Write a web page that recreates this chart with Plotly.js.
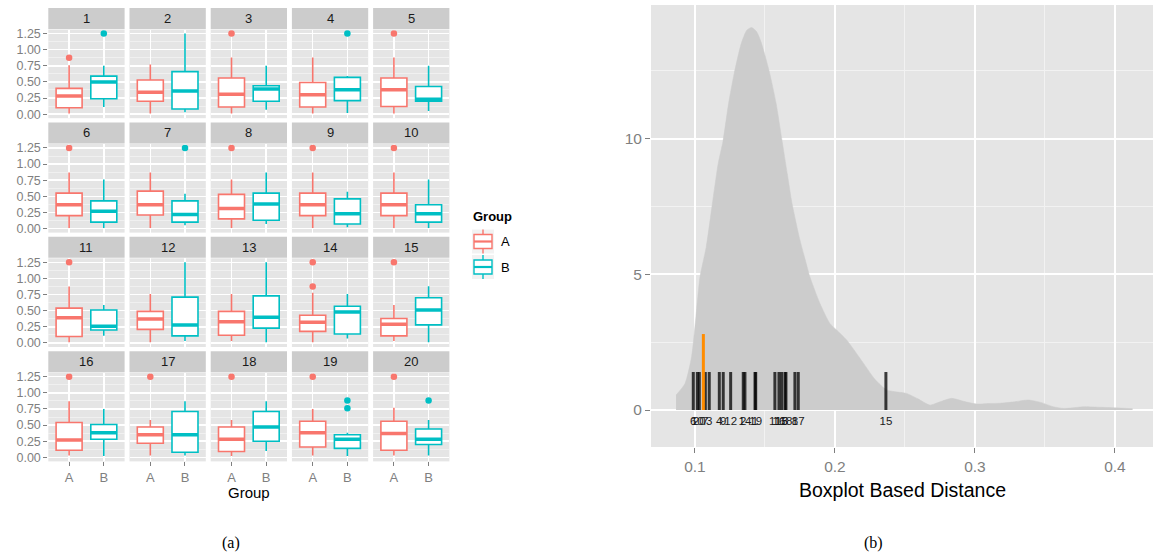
<!DOCTYPE html>
<html><head><meta charset="utf-8">
<script src="https://cdn.plot.ly/plotly-3.0.1.min.js"></script>
<style>html,body{margin:0;padding:0;background:#fff}#chart{width:1153px;height:555px}</style>
</head><body><div id="chart"></div>
<script>
// ---------------- data: panel (a) ----------------
const facetIds = [1,2,3,4,5,6,7,8,9,10,11,12,13,14,15,16,17,18,19,20];
const groups = ['A','B'];
const groupColors = ['#F8766D','#00BFC4'];
const yTicksA = [0, 0.25, 0.5, 0.75, 1.0, 1.25];

const aLow  = [0.01,0.01,0.01,0.01,0.01, 0.01,0.01,0.01,0.01,0.01, 0.01,0.01,0.03,0.01,0.03, 0.03,0.03,0.02,0.03,0.03];
const aQ1   = [0.10,0.20,0.11,0.11,0.12, 0.20,0.21,0.15,0.20,0.20, 0.10,0.21,0.12,0.18,0.11, 0.11,0.22,0.09,0.16,0.11];
const aMed  = [0.28,0.34,0.31,0.30,0.38, 0.37,0.37,0.31,0.37,0.37, 0.39,0.37,0.33,0.32,0.29, 0.27,0.35,0.28,0.38,0.37];
const aQ3   = [0.40,0.53,0.56,0.49,0.56, 0.55,0.58,0.53,0.55,0.55, 0.54,0.49,0.49,0.43,0.38, 0.54,0.47,0.47,0.56,0.56];
const aHigh = [0.76,0.77,0.88,0.88,0.88, 0.87,0.87,0.76,0.87,0.87, 0.875,0.76,0.76,0.78,0.59, 0.87,0.58,0.58,0.75,0.77];
const aOut  = [[0.875],[],[1.25],[],[1.25], [1.25],[],[1.25],[1.25],[1.25], [1.25],[],[],[0.875,1.25],[1.25], [1.25],[1.25],[1.25],[1.25],[1.25]];

const bLow  = [0.11,0.03,0.07,0.02,0.05, 0.01,0.05,0.07,0.02,0.01, 0.11,0.03,0.01,0.07,0.01, 0.02,0.03,0.10,0.02,0.03];
const bQ1   = [0.24,0.08,0.20,0.21,0.20, 0.10,0.10,0.13,0.07,0.10, 0.20,0.11,0.23,0.14,0.28, 0.28,0.08,0.25,0.14,0.20];
const bMed  = [0.50,0.36,0.39,0.38,0.23, 0.27,0.22,0.38,0.23,0.23, 0.26,0.28,0.40,0.48,0.51, 0.38,0.35,0.47,0.28,0.28];
const bQ3   = [0.59,0.66,0.44,0.57,0.43, 0.43,0.43,0.55,0.46,0.37, 0.51,0.71,0.73,0.57,0.70, 0.51,0.71,0.71,0.35,0.44];
const bHigh = [0.75,1.25,0.75,0.59,0.75, 0.76,0.54,0.87,0.57,0.76, 0.59,1.25,1.25,0.76,0.88, 0.75,0.87,0.87,0.38,0.58];
const bOut  = [[1.25],[],[],[1.25],[], [],[1.25],[],[],[], [],[],[],[],[], [],[],[],[0.76,0.88],[0.88]];

// ---------------- data: panel (b) ----------------
const densX = [0.0865,0.0929,0.0976,0.1007,0.1036,0.1080,0.1131,0.1166,0.1200,0.1240,0.1280,0.1330,0.1370,0.1405,0.1440,0.1470,0.1530,0.1580,0.1620,0.1660,0.1694,0.1750,0.1795,0.1821,0.1893,0.1964,0.2012,0.2084,0.2180,0.2286,0.2369,0.2450,0.2512,0.2590,0.2679,0.2750,0.2833,0.2920,0.3012,0.3100,0.3179,0.3280,0.3381,0.3470,0.3560,0.3631,0.3700,0.3774,0.3900,0.4000,0.4126];
const densY = [0.55,0.98,1.97,3.44,4.91,6.0,7.86,9.09,9.9,11.3,12.4,13.5,14.0,14.1,13.95,13.6,12.5,11.3,10.0,8.7,7.6,6.27,5.4,4.91,3.93,3.19,2.95,2.58,1.9,1.13,0.74,0.66,0.61,0.42,0.18,0.30,0.43,0.32,0.22,0.24,0.25,0.30,0.37,0.28,0.12,0.06,0.08,0.12,0.10,0.08,0.05];
const rugIds  = ['6','20','10','7','3','4','9','12','2','14','1','19','11','16','13','5','18','8','17','15'];
const rugDist = [0.0988,0.1031,0.1017,0.1074,0.1102,0.1174,0.1202,0.1255,0.1345,0.1357,0.1429,0.1434,0.1571,0.1600,0.1619,0.1643,0.1650,0.1714,0.1738,0.2364];
const rugHeight = 1.4;
const labelLevel = -0.44;
const markedDist = [0.1060];
const markedHeight = 2.8;
const xTicksB = [0.1, 0.2, 0.3, 0.4];
const yTicksB = [0, 5, 10];

// ---------------- layout geometry (pixels) ----------------
const W = 1153, H = 555;
const FONT = 'Liberation Sans, Arial, Helvetica, sans-serif';
const colL0 = 48.3, colPitch = 81.2, colW = 76.3;
const rowT0 = 29.5, rowPitch = 114.4, rowH = 88.7, stripH = 21;
const boxW = 0.75;
const px = v => v / W;
const py = v => 1 - v / H;

const traces = [];
const layout = {
  width: W, height: H,
  margin: {l:0, r:0, t:0, b:0},
  paper_bgcolor: '#ffffff', plot_bgcolor: '#e5e5e5',
  showlegend: false,
  font: {family: FONT},
  shapes: [], annotations: []
};

facetIds.forEach((id, i) => {
  const k = i + 1;
  const xa = k === 1 ? 'x' : 'x' + k;
  const ya = k === 1 ? 'y' : 'y' + k;
  const col = i % 5, row = Math.floor(i / 5);
  const x0 = colL0 + col * colPitch, x1 = x0 + colW;
  const top = rowT0 + row * rowPitch, bottom = top + rowH;

  layout['xaxis' + (k === 1 ? '' : k)] = {
    domain: [px(x0), px(x1)], range: [0.4, 2.6], anchor: ya,
    tickmode: 'array', tickvals: [1, 2], ticktext: groups,
    showticklabels: row === 3, ticks: row === 3 ? 'outside' : '',
    ticklen: 4, tickwidth: 1, tickcolor: '#7f7f7f',
    tickfont: {family: FONT, size: 13, color: '#7f7f7f'},
    showgrid: true, gridcolor: '#ffffff', gridwidth: 1.5,
    zeroline: false, showline: false, fixedrange: true
  };
  layout['yaxis' + (k === 1 ? '' : k)] = {
    domain: [py(bottom), py(top)], range: [-0.0625, 1.3125], anchor: xa,
    tickmode: 'array', tickvals: yTicksA, ticktext: yTicksA.map(v => v.toFixed(2)),
    showticklabels: col === 0, ticks: col === 0 ? 'outside' : '',
    ticklen: 4, tickwidth: 1, tickcolor: '#7f7f7f',
    tickfont: {family: FONT, size: 12.5, color: '#7f7f7f'},
    showgrid: true, gridcolor: '#ffffff', gridwidth: 1.5,
    minor: {tick0: 0.125, dtick: 0.25, showgrid: true, gridcolor: '#f2f2f2', gridwidth: 0.8, ticks: ''},
    zeroline: false, showline: false, fixedrange: true
  };

  // strip
  layout.shapes.push({type: 'rect', xref: 'paper', yref: 'paper',
    x0: px(x0), x1: px(x1), y0: py(top - 0.5), y1: py(top - 0.5 - stripH),
    fillcolor: '#cccccc', line: {width: 0}, layer: 'below'});
  layout.annotations.push({xref: 'paper', yref: 'paper', x: px((x0 + x1) / 2), y: py(top - 0.5 - stripH / 2),
    text: String(id), showarrow: false, xanchor: 'center', yanchor: 'middle',
    font: {family: FONT, size: 13, color: '#1a1a1a'}});

  const stats = [
    {lo: aLow[i], q1: aQ1[i], med: aMed[i], q3: aQ3[i], hi: aHigh[i], out: aOut[i]},
    {lo: bLow[i], q1: bQ1[i], med: bMed[i], q3: bQ3[i], hi: bHigh[i], out: bOut[i]}
  ];
  stats.forEach((s, g) => {
    const pos = g + 1, c = groupColors[g];
    traces.push({type: 'box', xaxis: xa, yaxis: ya, name: groups[g],
      x: [pos], q1: [s.q1], median: [s.med], q3: [s.q3], lowerfence: [s.lo], upperfence: [s.hi],
      width: boxW, whiskerwidth: 0, fillcolor: '#ffffff', line: {color: c, width: 1.6},
      boxpoints: false, hoverinfo: 'skip'});
    traces.push({type: 'scatter', mode: 'lines', xaxis: xa, yaxis: ya,
      x: [pos - boxW / 2, pos + boxW / 2], y: [s.med, s.med],
      line: {color: c, width: 3.5}, hoverinfo: 'skip'});
    if (s.out.length) {
      traces.push({type: 'scatter', mode: 'markers', xaxis: xa, yaxis: ya,
        x: s.out.map(() => pos), y: s.out,
        marker: {color: c, size: 6.5, line: {width: 0}}, hoverinfo: 'skip'});
    }
  });
});

// x title for panel (a)
layout.annotations.push({xref: 'paper', yref: 'paper', x: px(249), y: py(492), text: 'Group',
  showarrow: false, xanchor: 'center', yanchor: 'middle', font: {family: FONT, size: 15, color: '#000000'}});

// legend for panel (a)
layout.annotations.push({xref: 'paper', yref: 'paper', x: px(471), y: py(216), text: '<b>Group</b>',
  showarrow: false, xanchor: 'left', yanchor: 'middle', font: {family: FONT, size: 13, color: '#000000'}});
groups.forEach((g, j) => {
  const kt = 229.5 + j * 25.5, kb = kt + 24, kl = 472, kr = 494, cx = (kl + kr) / 2, cy = (kt + kb) / 2;
  const c = groupColors[j];
  layout.shapes.push({type: 'rect', xref: 'paper', yref: 'paper', x0: px(kl), x1: px(kr), y0: py(kb), y1: py(kt),
    fillcolor: '#f2f2f2', line: {width: 0}});
  layout.shapes.push({type: 'line', xref: 'paper', yref: 'paper', x0: px(cx), x1: px(cx), y0: py(kt), y1: py(kb),
    line: {color: c, width: 1.4}});
  layout.shapes.push({type: 'rect', xref: 'paper', yref: 'paper', x0: px(kl + 2), x1: px(kr - 2), y0: py(cy + 7), y1: py(cy - 7),
    fillcolor: '#ffffff', line: {color: c, width: 1.4}});
  layout.shapes.push({type: 'line', xref: 'paper', yref: 'paper', x0: px(kl + 2), x1: px(kr - 2), y0: py(cy), y1: py(cy),
    line: {color: c, width: 2.2}});
  layout.annotations.push({xref: 'paper', yref: 'paper', x: px(499), y: py(cy), text: g,
    showarrow: false, xanchor: 'left', yanchor: 'middle', font: {family: FONT, size: 13, color: '#000000'}});
});

// ---------------- panel (b) ----------------
const bL = 651, bR = 1153, bT = 5, bB = 447;
layout.xaxis21 = {
  domain: [px(bL), px(bR)], range: [0.0686, 0.4272], anchor: 'y21',
  tickmode: 'array', tickvals: xTicksB, ticktext: xTicksB.map(v => v.toFixed(1)),
  ticks: 'outside', ticklen: 5, tickwidth: 1, tickcolor: '#7f7f7f',
  tickfont: {family: FONT, size: 15.5, color: '#7f7f7f'},
  showgrid: true, gridcolor: '#ffffff', gridwidth: 2,
  minor: {tick0: 0.05, dtick: 0.1, showgrid: true, gridcolor: '#f2f2f2', gridwidth: 1, ticks: ''},
  zeroline: false, showline: false, fixedrange: true
};
layout.yaxis21 = {
  domain: [py(bB), py(bT)], range: [-1.364, 14.93], anchor: 'x21',
  tickmode: 'array', tickvals: yTicksB, ticktext: yTicksB.map(String),
  ticks: 'outside', ticklen: 5, tickwidth: 1, tickcolor: '#7f7f7f',
  tickfont: {family: FONT, size: 15.5, color: '#7f7f7f'},
  showgrid: true, gridcolor: '#ffffff', gridwidth: 2,
  minor: {tick0: 2.5, dtick: 5, showgrid: true, gridcolor: '#f2f2f2', gridwidth: 1, ticks: ''},
  zeroline: false, showline: false, fixedrange: true
};
traces.push({type: 'scatter', mode: 'lines', xaxis: 'x21', yaxis: 'y21',
  x: densX, y: densY, fill: 'tozeroy', fillcolor: '#cccccc',
  line: {color: '#cccccc', width: 0.5, shape: 'spline', smoothing: 0.6}, hoverinfo: 'skip'});

const segX = [], segY = [];
rugDist.forEach(d => { segX.push(d, d, null); segY.push(0, rugHeight, null); });
traces.push({type: 'scatter', mode: 'lines', xaxis: 'x21', yaxis: 'y21',
  x: segX, y: segY, line: {color: 'rgba(0,0,0,0.75)', width: 3}, hoverinfo: 'skip'});
const mX = [], mY = [];
markedDist.forEach(d => { mX.push(d, d, null); mY.push(0, markedHeight, null); });
traces.push({type: 'scatter', mode: 'lines', xaxis: 'x21', yaxis: 'y21',
  x: mX, y: mY, line: {color: '#FF8C00', width: 3}, hoverinfo: 'skip'});
traces.push({type: 'scatter', mode: 'text', xaxis: 'x21', yaxis: 'y21',
  x: rugDist, y: rugDist.map(() => labelLevel), text: rugIds, textposition: 'middle center',
  textfont: {family: FONT, size: 11.5, color: '#1a1a1a'}, hoverinfo: 'skip'});

layout.annotations.push({xref: 'paper', yref: 'paper', x: px((bL + bR) / 2), y: py(490), text: 'Boxplot Based Distance',
  showarrow: false, xanchor: 'center', yanchor: 'middle', font: {family: FONT, size: 19.5, color: '#000000'}});

// captions
layout.annotations.push({xref: 'paper', yref: 'paper', x: px(231), y: py(543), text: '(a)',
  showarrow: false, xanchor: 'center', yanchor: 'middle', font: {family: 'Liberation Serif, Times New Roman, serif', size: 16, color: '#000000'}});
layout.annotations.push({xref: 'paper', yref: 'paper', x: px(873), y: py(543), text: '(b)',
  showarrow: false, xanchor: 'center', yanchor: 'middle', font: {family: 'Liberation Serif, Times New Roman, serif', size: 16, color: '#000000'}});

Plotly.newPlot('chart', traces, layout, {staticPlot: true, displayModeBar: false});
</script>
</body></html>
